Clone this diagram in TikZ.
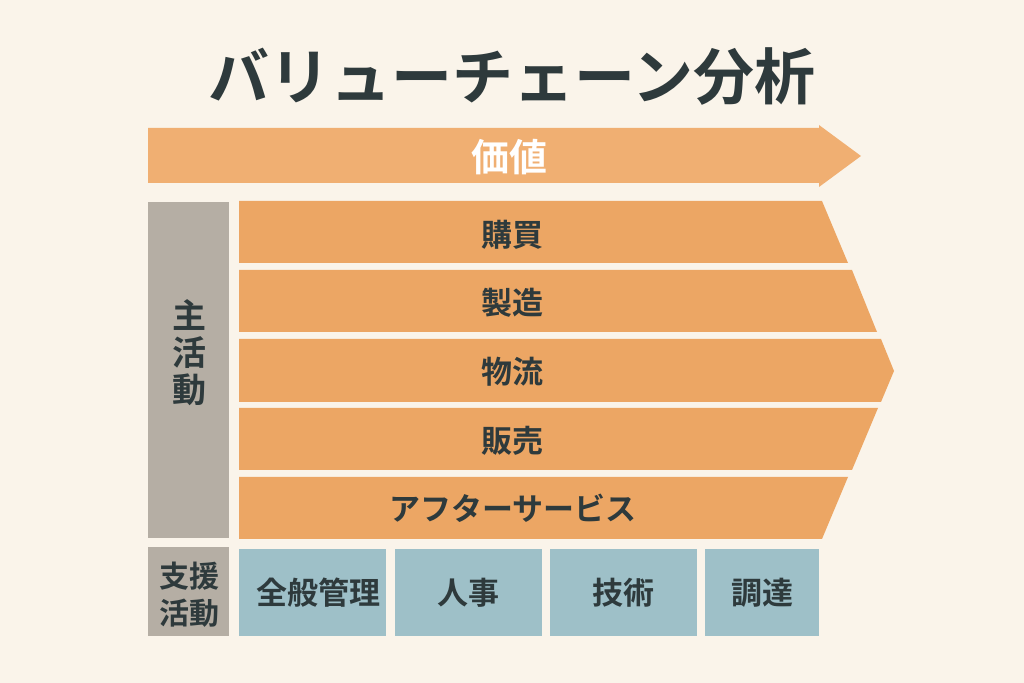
\documentclass[tikz,border=0pt]{standalone}
\usepackage{fontspec}
\setmainfont{Noto Sans CJK JP}[BoldFont={* Bold}]
\definecolor{bg}{HTML}{FAF4EA}
\definecolor{arrowc}{HTML}{F0AF72}
\definecolor{rowc}{HTML}{ECA664}
\definecolor{grayc}{HTML}{B5AEA4}
\definecolor{bluec}{HTML}{9EC0C8}
\definecolor{txt}{HTML}{2E3A3C}
\tikzset{
  lbl/.style={text=txt, font=\bfseries\fontsize{15.5pt}{17pt}\selectfont, inner sep=0pt},
  side/.style={text=txt, align=center, inner sep=0pt},
}
\begin{document}
\begin{tikzpicture}[x=0.5pt,y=-0.5pt]
\fill[bg] (0,0) rectangle (1024,683);
\useasboundingbox (0,0) rectangle (1024,683);
% title
\node[text=txt, font=\bfseries\fontsize{30.5pt}{32pt}\selectfont, inner sep=0pt] (title) at (512,77) {バリューチェーン分析};
% value arrow
\fill[arrowc] (148,128) -- (819,128) -- (819,125) -- (861,156) -- (819,187) -- (819,183) -- (148,183) -- cycle;
\node[text=white, font=\bfseries\fontsize{19pt}{20pt}\selectfont, inner sep=0pt] (value) at (509,157) {価値};
% primary rows
\fill[rowc] (239,201) -- (822,201) -- (848,263) -- (239,263) -- cycle;
\fill[rowc] (239,270) -- (852,270) -- (877,332) -- (239,332) -- cycle;
\fill[rowc] (239,339) -- (881,339) -- (894,371) -- (881,402) -- (239,402) -- cycle;
\fill[rowc] (239,408) -- (878,408) -- (852,470) -- (239,470) -- cycle;
\fill[rowc] (239,477) -- (848,477) -- (822,539) -- (239,539) -- cycle;
\node[lbl] (r1) at (512,235) {購買};
\node[lbl] (r2) at (512,303) {製造};
\node[lbl] (r3) at (512,372) {物流};
\node[lbl] (r4) at (512,441) {販売};
\node[lbl] (r5) at (513,508) {アフターサービス};
% side labels
\fill[grayc] (148,202) rectangle (229,538);
\fill[grayc] (148,547) rectangle (229,636);
\node[side, font=\bfseries\fontsize{17pt}{18.5pt}\selectfont] (main) at (189,353) {主\\活\\動};
\node[side, font=\bfseries\fontsize{15pt}{18.5pt}\selectfont] (support) at (189,595) {支援\\活動};
% support boxes
\fill[bluec] (239,549) rectangle (386,636);
\fill[bluec] (395,549) rectangle (542,636);
\fill[bluec] (550,549) rectangle (697,636);
\fill[bluec] (705,549) rectangle (819,636);
\node[lbl] (s1) at (318,593) {全般管理};
\node[lbl] (s2) at (468.5,593) {人事};
\node[lbl] (s3) at (623.5,593) {技術};
\node[lbl] (s4) at (762,593) {調達};
\end{tikzpicture}
\end{document}
